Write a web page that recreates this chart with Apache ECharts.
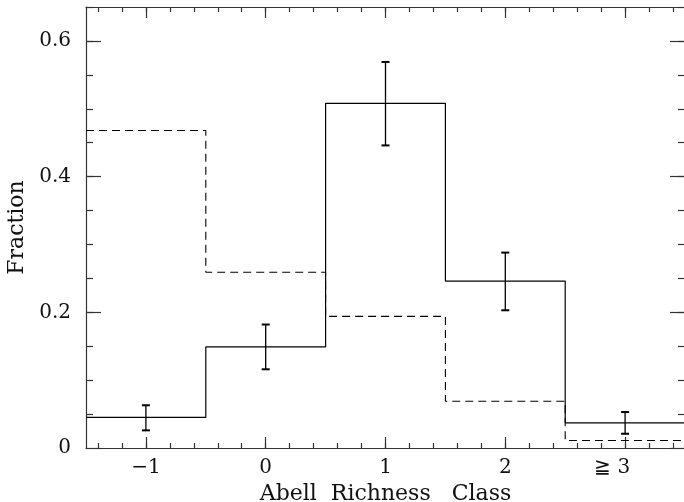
<!DOCTYPE html>
<html>
<head>
<meta charset="utf-8">
<script src="https://cdn.jsdelivr.net/npm/echarts@6/dist/echarts.min.js"></script>
<style>html,body{margin:0;padding:0;background:#fff;}#c{width:684px;height:502px;}</style>
</head>
<body>
<div id="c"></div>
<script>
// Abell richness classes and tick labels
const classes = [-1, 0, 1, 2, 3];
const tickLabels = ['\u22121', '0', '1', '2', '\u2267 3'];
// Solid histogram (sample) with error bars
const sampleFrac = [0.045, 0.149, 0.508, 0.246, 0.037];
const errLow = [0.026, 0.116, 0.446, 0.203, 0.021];
const errHigh = [0.063, 0.182, 0.569, 0.288, 0.053];
// Dashed histogram (comparison)
const compFrac = [0.468, 0.259, 0.194, 0.069, 0.011];
// Y-axis tick values
const yMajor = [0, 0.2, 0.4, 0.6];

const xMin = -1.5, xMax = 3.5, yMin = 0, yMax = 0.65;
const xMinor = [];
for (let i = -7; i <= 17; i++) xMinor.push(Math.round(i * 2) / 10);
const yMinor = [];
for (let i = 1; i <= 13; i++) yMinor.push(Math.round(i * 5) / 100);

function stepData(vals) {
  const out = classes.map((c, i) => [c - 0.5, vals[i]]);
  out.push([classes[classes.length - 1] + 0.5, vals[vals.length - 1]]);
  return out;
}

const FONT = 'DejaVu Serif';
const axisColor = '#333';
const txt = { fontFamily: FONT, fontSize: 20, color: '#111' };

function xAxisDef(pos, major, withLabel) {
  return {
    type: 'value', position: pos, min: xMin, max: xMax, gridIndex: 0,
    axisLine: { show: major, onZero: false, lineStyle: { color: axisColor, width: 1.2 } },
    axisTick: { show: true, inside: true, length: major ? 11 : 5, customValues: major ? classes : xMinor,
      lineStyle: { color: axisColor, width: 1.2 } },
    axisLabel: withLabel ? {
      show: true, customValues: classes, margin: 10, ...txt,
      formatter: v => {
        const i = classes.findIndex(c => Math.abs(c - v) < 1e-6);
        if (i < 0) return '';
        if (i === classes.length - 1) return '{ge|' + tickLabels[i] + '}';
        return tickLabels[i];
      },
      rich: { ge: { ...txt, padding: [0, 26, 0, 0] } }
    } : { show: false },
    splitLine: { show: false },
    name: withLabel ? 'Abell  Richness   Class' : '',
    nameLocation: 'middle', nameGap: 30,
    nameTextStyle: { ...txt, fontSize: 22 }
  };
}
function yAxisDef(pos, major, withLabel) {
  return {
    type: 'value', position: pos, min: yMin, max: yMax, gridIndex: 0,
    axisLine: { show: major, onZero: false, lineStyle: { color: axisColor, width: 1.2 } },
    axisTick: { show: true, inside: true, length: major ? 15 : 7, customValues: major ? yMajor : yMinor,
      lineStyle: { color: axisColor, width: 1.2 } },
    axisLabel: withLabel ? { show: true, customValues: yMajor, margin: 15, ...txt,
      formatter: v => String(Math.round(v * 10) / 10) } : { show: false },
    splitLine: { show: false },
    name: withLabel ? 'Fraction' : '',
    nameLocation: 'middle', nameGap: 56, nameRotate: 90,
    nameTextStyle: { ...txt, fontSize: 22 }
  };
}

const chart = echarts.init(document.getElementById('c'), null, { renderer: 'canvas' });
chart.setOption({
  animation: false,
  backgroundColor: '#fff',
  grid: { left: 86, top: 7, width: 599, height: 441, containLabel: false, outerBoundsMode: 'none' },
  xAxis: [xAxisDef('bottom', true, true), xAxisDef('bottom', false, false),
          xAxisDef('top', true, false), xAxisDef('top', false, false)],
  yAxis: [yAxisDef('left', true, true), yAxisDef('left', false, false),
          yAxisDef('right', true, false), yAxisDef('right', false, false)],
  series: [
    { type: 'line', xAxisIndex: 0, yAxisIndex: 0, step: 'end', symbol: 'none',
      data: stepData(compFrac), lineStyle: { color: '#000', width: 1.1, type: [8, 5] } },
    { type: 'line', xAxisIndex: 0, yAxisIndex: 0, step: 'end', symbol: 'none',
      data: stepData(sampleFrac), lineStyle: { color: '#000', width: 1.2 } },
    { type: 'custom', xAxisIndex: 0, yAxisIndex: 0,
      data: classes.map((c, i) => [c, errLow[i], errHigh[i]]),
      renderItem: (params, api) => {
        const x = api.value(0);
        const pLo = api.coord([x, api.value(1)]);
        const pHi = api.coord([x, api.value(2)]);
        const cw = 4;
        const st = { stroke: '#000', lineWidth: 1.3 };
        const cap = { stroke: '#000', lineWidth: 2 };
        return { type: 'group', children: [
          { type: 'line', shape: { x1: pLo[0], y1: pLo[1], x2: pHi[0], y2: pHi[1] }, style: st },
          { type: 'line', shape: { x1: pLo[0] - cw, y1: pLo[1], x2: pLo[0] + cw, y2: pLo[1] }, style: cap },
          { type: 'line', shape: { x1: pHi[0] - cw, y1: pHi[1], x2: pHi[0] + cw, y2: pHi[1] }, style: cap }
        ] };
      } }
  ]
});
</script>
</body>
</html>
